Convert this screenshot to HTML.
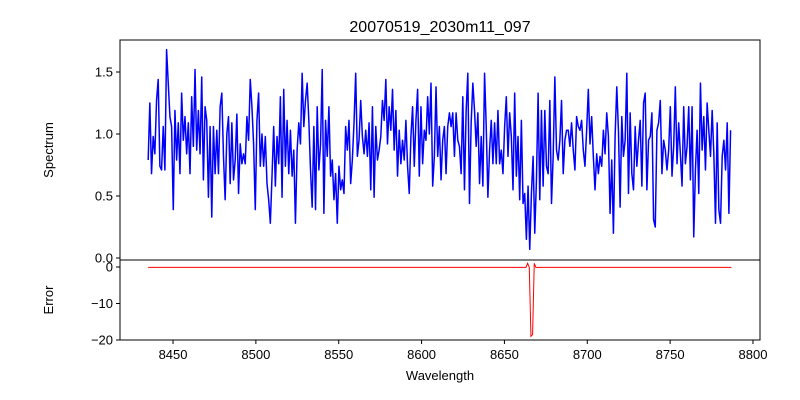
<!DOCTYPE html>
<html><head><meta charset="utf-8"><style>
body{margin:0;background:#fff;}
svg{display:block;font-family:"Liberation Sans","DejaVu Sans",sans-serif;}
</style></head><body>
<svg id="chart" width="800" height="400">
<text x="440" y="32" text-anchor="middle" font-size="16">20070519_2030m11_097</text>
<g id="topPanel"></g>
<g id="botPanel"></g>
<text transform="translate(53,150) rotate(-90)" text-anchor="middle" font-size="13">Spectrum</text>
<text transform="translate(53,300) rotate(-90)" text-anchor="middle" font-size="13">Error</text>
<text x="440" y="380" text-anchor="middle" font-size="13">Wavelength</text>
</svg>
<script>
const specStart = 8435;
const specStep = 1.01;
const specValues = [
0.79,1.25,0.68,0.98,0.84,1.27,1.44,0.74,0.71,1.06,0.71,1.68,1.41,1.14,1.06,0.39,1.19,0.79,1.09,0.68,1.33,0.95,1.14,0.84,1.09,0.68,1.30,0.90,1.52,0.87,1.19,0.84,1.46,0.63,1.22,1.11,0.49,1.06,0.33,1.06,0.68,1.03,0.68,1.22,1.33,0.82,0.47,1.00,1.14,0.60,1.09,0.63,0.79,1.16,0.52,0.92,0.76,0.84,0.76,1.14,0.95,1.44,1.22,0.92,0.39,1.11,1.33,0.74,1.00,0.74,0.98,0.60,0.47,0.28,0.66,1.06,0.58,0.98,0.76,1.30,0.49,1.36,0.74,1.11,0.68,1.03,0.66,0.87,0.28,
0.87,1.09,0.92,1.49,1.06,1.27,1.41,1.11,0.71,0.41,1.06,0.39,1.22,0.71,0.92,1.52,0.36,1.11,0.82,1.22,0.66,0.79,0.47,0.68,0.28,0.74,0.55,0.63,0.52,1.06,0.87,1.11,0.60,0.79,1.09,1.49,0.82,0.95,1.27,0.98,0.84,1.03,0.82,1.09,0.55,1.22,0.49,1.06,0.79,0.87,0.98,1.27,1.11,1.44,0.92,1.22,1.03,1.36,0.87,1.19,0.66,1.03,0.76,0.95,0.79,1.11,0.74,0.52,0.98,1.22,0.74,1.11,1.36,0.66,1.22,0.76,1.03,0.95,1.30,1.00,1.41,0.58,0.82,1.38,0.82,1.06,0.63,0.95,1.06,0.68,1.06,1.17,
1.06,1.17,0.82,1.17,0.95,0.90,0.68,1.30,0.55,1.19,1.49,0.44,1.09,1.41,1.19,0.90,1.17,0.60,0.98,0.58,1.49,1.06,0.49,0.87,1.11,0.76,1.09,0.76,1.19,0.76,0.87,0.68,1.06,1.30,0.82,1.17,0.98,0.55,1.33,0.66,0.98,0.47,1.11,0.44,0.52,0.15,0.58,0.07,0.52,0.82,0.20,0.63,1.33,0.47,1.19,0.58,1.19,0.74,0.68,1.27,0.44,0.82,1.46,0.87,0.79,0.95,1.27,0.68,0.95,1.03,1.03,0.90,1.09,0.87,0.71,1.14,1.06,1.03,1.11,0.87,0.74,1.03,1.36,0.92,1.14,0.82,0.55,0.84,0.68,0.82,0.74,1.03,0.84,1.17,
0.98,0.36,0.79,0.20,0.98,1.38,1.03,0.41,1.14,0.82,0.95,1.49,0.52,1.17,0.68,0.55,1.06,0.74,0.95,1.11,0.58,1.25,1.33,0.55,0.95,0.98,1.17,0.31,0.25,1.03,1.09,1.27,0.68,0.95,0.87,0.71,0.87,1.22,0.66,0.90,1.38,0.76,1.09,0.84,0.58,1.22,0.76,0.90,1.22,0.63,1.22,0.17,0.71,1.03,0.52,1.41,0.87,1.14,0.71,1.25,1.03,0.82,1.19,0.84,0.28,1.09,0.39,0.28,0.82,0.95,0.71,1.09,0.36,1.03
];
const errWave = [8435,8663,8664,8665,8666,8667,8668,8669,8787];
const errValues = [-0.1,-0.1,1.0,-0.1,-19,-18.5,1.0,-0.1,-0.1];
const xTicks = [8450,8500,8550,8600,8650,8700,8750,8800];
const specTicks = [0.0,0.5,1.0,1.5];
const specTickLabels = ["0.0","0.5","1.0","1.5"];
const errTicks = [0,-10,-20];
const errTickLabels = ["0","−10","−20"];

const NS="http://www.w3.org/2000/svg";
const L=120,R=760,T1=40,B1=260,T2=260,B2=340;
const x=w=>L+(w-8418)*1.657;
const y1=v=>258-v*124;
const y2=v=>267-v*3.65;
function mk(tag,attrs,parent){const e=document.createElementNS(NS,tag);for(const k in attrs)e.setAttribute(k,attrs[k]);parent.appendChild(e);return e;}
const topG=document.getElementById('topPanel'),botG=document.getElementById('botPanel');

let d="";
specValues.forEach((v,i)=>{d+=(i?"L":"M")+x(specStart+i*specStep).toFixed(2)+","+y1(v).toFixed(2);});
const sp=mk('path',{d:d,fill:"none",stroke:"#0000ff","stroke-width":1.5,"stroke-linejoin":"round"},topG);



let d2="";
errValues.forEach((v,i)=>{d2+=(i?"L":"M")+x(errWave[i]).toFixed(2)+","+y2(v).toFixed(2);});
const ep=mk('path',{d:d2,fill:"none",stroke:"#ff0000","stroke-width":1},botG);



const f1=mk('rect',{x:L,y:T1,width:R-L,height:B1-T1,fill:"none",stroke:"#000","stroke-width":1},topG);


const f2=mk('rect',{x:L,y:T2,width:R-L,height:B2-T2,fill:"none",stroke:"#000","stroke-width":1},botG);



specTicks.forEach((t,i)=>{
  const yy=y1(t);
  mk('line',{x1:L-4,x2:L,y1:yy,y2:yy,stroke:"#000"},topG);
  const tx=mk('text',{x:L-7,y:yy+4.5,"text-anchor":"end","font-size":13},topG);
  tx.textContent=specTickLabels[i];
  
  
});
errTicks.forEach((t,i)=>{
  const yy=y2(t);
  mk('line',{x1:L-4,x2:L,y1:yy,y2:yy,stroke:"#000"},botG);
  const tx=mk('text',{x:L-7,y:yy+4.5,"text-anchor":"end","font-size":13},botG);
  tx.textContent=errTickLabels[i];
  
  
});
xTicks.forEach(t=>{
  const xx=x(t);
  mk('line',{x1:xx,x2:xx,y1:B2,y2:B2+4,stroke:"#000"},botG);
  const tx=mk('text',{x:xx,y:B2+19,"text-anchor":"middle","font-size":13},botG);
  tx.textContent=String(t);
  
  
});
</script>
</body></html>
